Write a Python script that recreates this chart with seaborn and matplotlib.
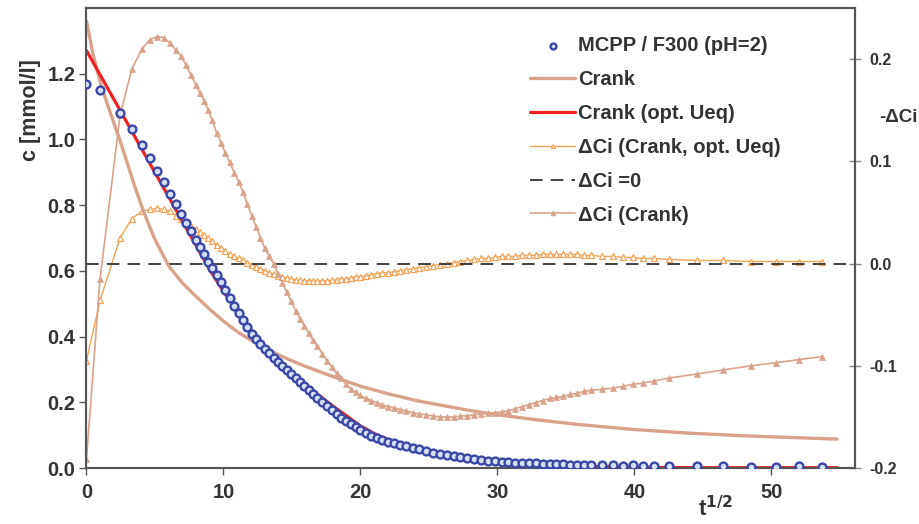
import matplotlib
matplotlib.use("Agg")
import matplotlib.pyplot as plt
import seaborn as sns

# ---------------- data ----------------
# sampling points (t^1/2) shared by the measured data and the deviation series
t_sqrt = [
    0.0, 0.99, 2.45, 3.3, 4.05, 4.62, 5.15, 5.63, 6.08, 6.52,
    6.9, 7.27, 7.63, 7.97, 8.28, 8.59, 8.89, 9.18, 9.5, 9.82,
    10.14, 10.46, 10.78, 11.1, 11.42, 11.74, 12.06, 12.38, 12.7, 13.02,
    13.34, 13.66, 13.98, 14.3, 14.62, 14.94, 15.26, 15.58, 15.9, 16.22,
    16.54, 16.86, 17.2, 17.55, 17.9, 18.25, 18.6, 18.95, 19.3, 19.65,
    20.0, 20.4, 20.8, 21.2, 21.6, 22.0, 22.45, 22.9, 23.35, 23.8,
    24.3, 24.8, 25.3, 25.8, 26.3, 26.8, 27.3, 27.8, 28.3, 28.8,
    29.3, 29.8, 30.3, 30.8, 31.3, 31.8, 32.3, 32.8, 33.3, 33.8,
    34.3, 34.8, 35.3, 35.8, 36.3, 36.8, 37.6, 38.4, 39.2, 39.9,
    40.6, 41.4, 42.5, 44.6, 46.5, 48.5, 50.3, 52.0, 53.7,
]
# measured concentration MCPP / F300 (pH=2)  [mmol/l]
conc_meas = [
    1.168, 1.149, 1.081, 1.033, 0.982, 0.943, 0.905, 0.869, 0.835, 0.803,
    0.773, 0.746, 0.720, 0.695, 0.672, 0.650, 0.628, 0.608, 0.588, 0.566,
    0.541, 0.517, 0.494, 0.471, 0.449, 0.428, 0.409, 0.392, 0.376, 0.362,
    0.349, 0.336, 0.324, 0.311, 0.298, 0.285, 0.273, 0.261, 0.250, 0.238,
    0.226, 0.214, 0.201, 0.188, 0.176, 0.164, 0.153, 0.143, 0.133, 0.124,
    0.115, 0.106, 0.098, 0.090, 0.084, 0.079, 0.075, 0.071, 0.066, 0.062,
    0.057, 0.052, 0.047, 0.043, 0.039, 0.036, 0.033, 0.030, 0.027, 0.025,
    0.022, 0.021, 0.019, 0.018, 0.016, 0.015, 0.014, 0.014, 0.013, 0.012,
    0.012, 0.011, 0.010, 0.010, 0.009, 0.009, 0.008, 0.008, 0.007, 0.008,
    0.007, 0.007, 0.006, 0.005, 0.005, 0.004, 0.004, 0.005, 0.004,
]
# -dCi (Crank)  (right axis)
dci_crank = [
    -0.191, -0.015, 0.145, 0.190, 0.210, 0.219, 0.222, 0.221, 0.216, 0.209,
    0.203, 0.194, 0.184, 0.175, 0.167, 0.159, 0.150, 0.140, 0.128, 0.118,
    0.108, 0.099, 0.089, 0.080, 0.070, 0.058, 0.047, 0.036, 0.025, 0.015,
    0.007, 0.000, -0.010, -0.019, -0.028, -0.037, -0.046, -0.054, -0.061, -0.068,
    -0.075, -0.081, -0.088, -0.095, -0.101, -0.107, -0.112, -0.118, -0.123, -0.126,
    -0.129, -0.132, -0.134, -0.136, -0.138, -0.140, -0.141, -0.143, -0.144, -0.146,
    -0.147, -0.148, -0.149, -0.150, -0.150, -0.150, -0.149, -0.149, -0.148, -0.147,
    -0.146, -0.146, -0.145, -0.144, -0.142, -0.140, -0.138, -0.136, -0.134, -0.132,
    -0.131, -0.130, -0.128, -0.127, -0.125, -0.124, -0.123, -0.122, -0.120, -0.118,
    -0.117, -0.115, -0.112, -0.108, -0.104, -0.100, -0.097, -0.094, -0.091,
]
# -dCi (Crank, opt. Ueq)  (right axis)
dci_opt = [
    -0.095, -0.036, 0.025, 0.044, 0.051, 0.053, 0.054, 0.053, 0.051, 0.047,
    0.044, 0.040, 0.037, 0.034, 0.031, 0.028, 0.025, 0.022, 0.018, 0.015,
    0.012, 0.009, 0.007, 0.005, 0.003, 0.001, -0.001, -0.003, -0.005, -0.007,
    -0.009, -0.010, -0.012, -0.013, -0.014, -0.015, -0.016, -0.016, -0.017, -0.017,
    -0.017, -0.017, -0.017, -0.017, -0.016, -0.016, -0.015, -0.015, -0.014, -0.013,
    -0.013, -0.012, -0.011, -0.010, -0.009, -0.009, -0.008, -0.007, -0.006, -0.005,
    -0.004, -0.003, -0.002, -0.001, 0.000, 0.001, 0.002, 0.003, 0.004, 0.005,
    0.005, 0.006, 0.007, 0.007, 0.007, 0.008, 0.008, 0.008, 0.009, 0.009,
    0.009, 0.009, 0.009, 0.009, 0.008, 0.008, 0.007, 0.007, 0.006, 0.006,
    0.005, 0.005, 0.004, 0.003, 0.003, 0.002, 0.002, 0.002, 0.002,
]
# Crank model curve
crank_x = [0.0, 0.5, 1.0, 1.5, 2.0, 2.5, 3.0, 3.5, 4.0, 4.5, 5.0, 5.5, 6.0, 7.0,
           8.0, 9.0, 10.0, 11.0, 12.0, 13.0, 14.0, 15.0, 16.0, 18.0, 20.0, 22.0,
           24.0, 26.0, 28.0, 30.0, 33.0, 36.0, 40.0, 44.0, 48.0, 52.0, 54.8]
crank_y = [1.36, 1.255, 1.175, 1.11, 1.05, 0.99, 0.925, 0.86, 0.80, 0.745, 0.695,
           0.655, 0.615, 0.563, 0.522, 0.483, 0.447, 0.415, 0.389, 0.366, 0.345,
           0.326, 0.309, 0.278, 0.249, 0.226, 0.206, 0.190, 0.175, 0.162, 0.146,
           0.132, 0.117, 0.106, 0.098, 0.092, 0.088]
# Crank model with optimised Ueq
crank_opt_x = [0.0, 1.0, 2.0, 3.0, 4.0, 5.0, 6.0, 7.0, 8.0, 9.0, 10.0, 11.0, 12.0,
               13.0, 14.0, 15.0, 16.0, 17.0, 18.0, 19.0, 20.0, 21.0, 22.0, 23.0,
               24.0, 26.0, 28.0, 30.0, 33.0, 36.0, 40.0, 45.0, 50.0, 54.8]
crank_opt_y = [1.27, 1.196, 1.122, 1.048, 0.973, 0.899, 0.825, 0.751, 0.677, 0.603,
               0.537, 0.476, 0.421, 0.370, 0.327, 0.290, 0.253, 0.220, 0.188, 0.158,
               0.128, 0.105, 0.087, 0.073, 0.061, 0.041, 0.027, 0.017, 0.009, 0.005,
               0.002, 0.001, 0.001, 0.001]
x_ticks = [0, 10, 20, 30, 40, 50]
c_ticks = [0.0, 0.2, 0.4, 0.6, 0.8, 1.0, 1.2]
dci_ticks = [-0.2, -0.1, 0.0, 0.1, 0.2]

# ---------------- style ----------------
sns.set_theme(style="white")
plt.rcParams["font.family"] = ["Liberation Sans", "DejaVu Sans"]
plt.rcParams["axes.unicode_minus"] = False

TXT = "#333333"
SPINE = "#555555"
BLUE = "#3b47a8"
CRANK = "#d9a28c"
RED = "#ee2020"
ORANGE = "#f2a355"

fig = plt.figure(figsize=(9.2, 5.24), dpi=100)
ax = fig.add_axes([86.5 / 920, 56 / 524, (855 - 86.5) / 920, 460 / 524])
ax2 = ax.twinx()

# right axis series
sns.lineplot(x=t_sqrt, y=dci_opt, ax=ax2, color=ORANGE, linewidth=1.0,
             marker="^", markersize=3.8, markerfacecolor="white",
             markeredgecolor=ORANGE, markeredgewidth=0.9,
             label="\u0394Ci (Crank, opt. Ueq)", sort=False, estimator=None)
ax2.axhline(0.0, color="#333333", linestyle=(0, (7, 4.5)), linewidth=1.3,
            label="\u0394Ci =0")
sns.lineplot(x=t_sqrt, y=dci_crank, ax=ax2, color=CRANK, linewidth=1.2,
             marker="^", markersize=4.6, markerfacecolor=CRANK,
             markeredgecolor=CRANK, markeredgewidth=0.5,
             label="\u0394Ci (Crank)", sort=False, estimator=None)

# left axis series
sns.lineplot(x=crank_x, y=crank_y, ax=ax, color=CRANK, linewidth=2.4,
             label="Crank", sort=False, estimator=None)
sns.lineplot(x=crank_opt_x, y=crank_opt_y, ax=ax, color=RED, linewidth=2.3,
             label="Crank (opt. Ueq)", sort=False, estimator=None)
sns.scatterplot(x=t_sqrt, y=conc_meas, ax=ax, marker="o", s=32,
                facecolor="#d6e0f0", edgecolor=BLUE, linewidth=1.7,
                label="MCPP / F300 (pH=2)", zorder=5)

ax.set_zorder(ax2.get_zorder() + 1)
ax.patch.set_visible(False)

ax.set_xlim(0, 56.1)
ax.set_ylim(0, 1.4)
ax2.set_ylim(-0.2, 0.25)

ax.set_xticks(x_ticks)
ax.set_xticklabels([str(v) for v in x_ticks])
ax.set_yticks(c_ticks)
ax.set_yticklabels([f"{v:.1f}" for v in c_ticks])
ax2.set_yticks(dci_ticks)
ax2.set_yticklabels([f"{v:.1f}" for v in dci_ticks])

for a in (ax, ax2):
    for s in a.spines.values():
        s.set_color(SPINE)
        s.set_linewidth(1.5)

ax.tick_params(axis="both", which="major", direction="out", length=5,
               width=1.0, color=SPINE, labelsize=14.5, labelcolor=TXT,
               pad=3)
ax.tick_params(axis="y", left=True)
ax.tick_params(axis="x", bottom=True, pad=6)
ax2.tick_params(axis="y", direction="inout", length=8, width=1.0, color="#888888",
                labelsize=11.5, labelcolor=TXT, pad=6)
for lab in ax.get_xticklabels() + ax.get_yticklabels():
    lab.set_fontweight("bold")
for lab in ax2.get_yticklabels():
    lab.set_fontweight("bold")

ax.set_xlabel("")
ax.set_ylabel("")
ax2.set_ylabel("")
fig.text(31 / 920, 1 - 110 / 524, "c [mmol/l]", rotation=90, ha="center",
         va="center", fontsize=15.5, fontweight="bold", color=TXT)
fig.text(899 / 920, 1 - 118 / 524, "-\u0394Ci", ha="center", va="center",
         fontsize=13.5, fontweight="bold", color=TXT)
fig.text(716 / 920, 1 - 509 / 524, "t$^{\\mathbf{1/2}}$", ha="center",
         va="center", fontsize=16, fontweight="bold", color=TXT)

# legend
h1, l1 = ax.get_legend_handles_labels()
h2, l2 = ax2.get_legend_handles_labels()
hd = dict(zip(l1 + l2, h1 + h2))
order = ["MCPP / F300 (pH=2)", "Crank", "Crank (opt. Ueq)",
         "\u0394Ci (Crank, opt. Ueq)", "\u0394Ci =0", "\u0394Ci (Crank)"]
for a in (ax, ax2):
    lg = a.get_legend()
    if lg is not None:
        lg.remove()
leg = ax.legend([hd[k] for k in order], order, loc="upper left",
                bbox_to_anchor=((530 - 86.5) / 768.5, (468 - 36) / 460),
                frameon=False, fontsize=14.5, handlelength=2.25,
                handletextpad=0.15, labelspacing=0.74, borderpad=0,
                borderaxespad=0, markerscale=0.75)
for t in leg.get_texts():
    t.set_fontweight("bold")
    t.set_color(TXT)

fig.savefig("out.png", dpi=100)
